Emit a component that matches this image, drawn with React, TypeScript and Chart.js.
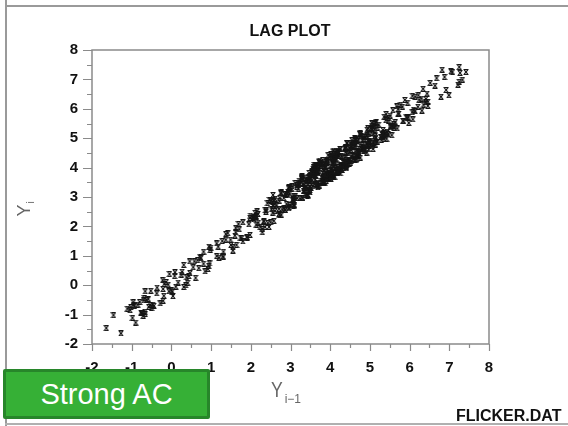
import React, { useEffect, useRef } from "react";
import { Chart, registerables } from "chart.js";

Chart.register(...registerables);

// Hand-read time series (FLICKER.DAT style), plotted as lag pairs (Y[i-1], Y[i])
const flickerSeries: number[] = [
  3.5, 3.62, 4.03, 3.96, 4.19, 3.84, 3.89, 4.2, 4.02, 4.46, 4.48, 4.22, 4.39, 4.7, 4.52, 4.61, 4.27, 4.05, 4.36, 4.33,
  3.98, 3.71, 3.9, 3.55, 3.57, 3.81, 3.49, 3.16, 3.34, 3.3, 2.98, 3.12, 3.47, 3.2, 3.28, 3.63, 3.91, 3.75, 4.14, 4.1,
  4.37, 4.68, 4.55, 4.93, 4.81, 4.76, 5.15, 5.02, 5.33, 5.09, 4.85, 4.97, 4.62, 4.71, 4.4, 4.18, 4.51, 4.16, 4.29, 3.93,
  3.77, 4.06, 3.68, 3.85,
  3.52, 3.31, 3.44, 3.08, 2.83, 2.97, 2.65, 2.72, 2.38, 2.5, 2.14, 2.06, 2.29, 1.91, 1.62, 1.8, 1.49, 1.55, 1.18, 1.31,
  0.96, 0.74, 0.92, 0.55, 0.61, 0.25, 0.36, 0.0, -0.18, 0.04, -0.37, -0.28, -0.62, -0.5, -0.77, -0.93, -0.71, -1.04,
  -0.85, -0.66, -0.98, -1.11, -0.8, -0.57, -0.74, -0.95, -0.68, -0.44, -0.7, -0.52, -0.19, -0.36, -0.08, 0.02, -0.22,
  0.17, 0.09, 0.44, 0.31, 0.69, 0.58, 0.81, 1.14, 0.99, 1.28, 1.5, 1.37, 1.74, 1.62, 1.95, 2.07, 2.33, 2.18, 2.42, 2.79,
  2.58, 2.86, 3.1, 2.98, 3.34, 3.22, 3.47, 3.82, 3.67, 4.03, 3.91, 4.22, 4.53, 4.4, 4.69, 4.91, 4.78, 5.06, 5.31, 5.14,
  5.52, 5.37, 5.12, 5.29, 4.94, 5.05, 4.72, 4.49, 4.67, 4.28, 4.4, 4.07, 4.15, 3.82, 3.96, 3.6, 3.77, 3.46, 3.58,
  3.92, 3.71, 4.08, 4.27, 3.99, 4.35, 4.18, 4.54, 4.71, 4.43, 4.82, 4.96, 4.75, 5.13, 5.06, 5.4, 5.61, 5.36, 5.73, 5.84,
  5.58, 5.95, 6.21, 6.07, 6.44, 6.52, 6.88, 7.08, 7.25, 7.42, 7.25, 6.92, 6.64, 6.79, 6.41, 6.22, 6.46, 6.1, 5.97, 5.71,
  5.84, 5.6, 5.47, 5.69, 5.33, 5.28, 5.04, 5.19, 4.88, 4.59, 4.83, 4.67, 4.41, 4.48, 4.13, 4.31, 4.07, 3.86, 3.97, 3.61,
  3.45, 3.69, 3.33, 3.2, 3.41, 3.08, 3.04, 3.36, 3.29, 3.6, 3.78, 3.53, 3.86, 4.03, 3.8, 4.12, 3.97, 3.71, 3.98, 3.66,
  3.9, 4.04, 4.38, 4.16, 4.46, 4.25, 4.63, 4.39, 4.16, 4.4, 4.03, 3.91, 3.6, 3.82, 3.48, 3.7, 3.39, 3.23, 3.43, 3.05,
  2.9, 3.08, 2.71, 2.6, 2.77, 2.39, 2.55, 2.84, 2.61, 2.94, 3.17, 2.96, 3.33, 3.44, 3.29, 3.7, 3.81, 3.63, 4.05, 4.15,
  4.47, 4.26, 4.64, 4.8, 4.62, 4.99, 4.88, 5.04, 5.33, 5.11, 5.47, 5.6, 5.43, 5.22, 5.46, 5.13, 4.97, 5.14, 4.78, 4.69,
  4.38, 4.64, 4.27, 4.1, 4.29, 3.92, 4.17, 3.83, 3.66, 3.86, 3.49, 3.37, 3.06, 2.92, 3.1, 2.73, 2.96, 2.61, 2.52, 2.58,
  2.19, 2.13, 2.36, 1.98, 1.71, 1.9, 1.64, 1.37, 1.55, 1.29, 0.98, 1.2, 0.94, 0.66, 0.85, 0.47, 0.41, 0.08, 0.31, -0.06,
  -0.21, -0.53, -0.67, -0.9, -1.27, -1.64, -1.46, -1.02, -0.75, -0.96, -0.58, -0.47, -0.66, -0.21, -0.13, 0.11, -0.05,
  0.38, 0.27, 0.46, 0.81, 0.73, 0.95, 1.31, 1.14, 1.42, 1.77, 1.6, 1.69, 2.08, 2.24, 1.99, 2.37, 2.55, 2.47, 2.9, 2.76,
  3.12, 3.03, 3.28, 3.67, 3.44, 3.57, 3.96, 3.81, 4.26, 4.09, 4.18, 4.57, 4.42, 4.84, 4.71, 4.95, 5.34, 5.16, 5.55, 5.41,
  5.82, 6.07, 5.88, 6.3, 6.35, 6.14, 5.92, 5.71, 5.98, 5.52, 5.43, 5.19, 5.36, 4.97, 4.91, 5.08, 4.63, 4.55, 4.76, 4.34,
  4.16, 4.41, 3.97, 3.88, 4.02, 3.62,
  3.58, 4.01, 3.81, 3.6, 4.09, 4.2, 3.86, 3.78, 4.13, 4.39, 4.34, 4.08, 4.54, 4.74, 4.63, 4.93, 5.29, 5.05, 5.51, 5.77,
  6.14, 6.41, 6.34, 6.68, 7.04, 7.27, 7.22, 6.82, 7.33, 6.99, 6.46, 6.24, 6.31, 5.94, 5.68, 6.08, 5.64, 5.55, 5.1, 5.42,
  4.98, 4.83, 5.04, 4.92, 4.51, 4.84, 4.58, 4.29, 4.37, 4.08, 3.76, 4.15, 3.85, 3.64, 3.73, 3.39, 3.49, 3.24, 2.95, 3.3,
  2.98, 2.72, 2.86, 2.56, 2.71, 2.43, 2.11, 2.46, 1.98, 2.29, 1.8, 2.14, 2.32, 2.16, 2.51, 2.87, 2.56, 3.07, 2.77, 3.16,
  3.41, 3.22, 3.56, 3.36, 3.66, 4.08, 3.73, 4.24, 3.95, 4.42, 4.08, 4.58, 4.82, 4.64, 4.96, 4.76, 5.16, 4.86, 4.62, 4.73,
  4.48, 4.65, 4.39, 4.53, 4.22, 3.92, 4.26, 3.8, 4.11, 3.69, 3.49, 3.65, 3.41, 3.54, 3.89, 3.6, 4.03, 3.72, 4.19, 3.88,
];

const xTickValues: number[] = [-2, -1, 0, 1, 2, 3, 4, 5, 6, 7, 8];
const yTickValues: number[] = [-2, -1, 0, 1, 2, 3, 4, 5, 6, 7, 8];

const titleText = "LAG PLOT";
const badgeText = "Strong AC";
const fileText = "FLICKER.DAT";

const FONT = "'Liberation Sans', Arial, Helvetica, sans-serif";

function makeMarker(): HTMLCanvasElement {
  const c = document.createElement("canvas");
  c.width = 6;
  c.height = 6;
  const g = c.getContext("2d")!;
  g.strokeStyle = "#151515";
  g.lineWidth = 1.1;
  g.beginPath();
  g.moveTo(0.5, 0.5);
  g.lineTo(5.5, 0.5);
  g.moveTo(0.5, 5.5);
  g.lineTo(5.5, 5.5);
  g.moveTo(1.2, 0.8);
  g.lineTo(4.8, 5.2);
  g.moveTo(4.8, 0.8);
  g.lineTo(1.2, 5.2);
  g.stroke();
  return c;
}

const framePlugin = {
  id: "frameTicks",
  afterDraw(chart: any) {
    const { ctx, chartArea, scales } = chart;
    const xs = scales.x;
    const ys = scales.y;
    ctx.save();
    ctx.strokeStyle = "#8a8a8a";
    ctx.lineWidth = 1.5;
    ctx.strokeRect(chartArea.left, chartArea.top, chartArea.right - chartArea.left, chartArea.bottom - chartArea.top);
    ctx.lineWidth = 1.2;
    ctx.beginPath();
    for (let v = xs.min; v <= xs.max + 1e-9; v += 0.5) {
      const px = Math.round(xs.getPixelForValue(v)) + 0.5;
      const major = Math.abs(v - Math.round(v)) < 1e-6;
      ctx.moveTo(px, chartArea.bottom);
      ctx.lineTo(px, chartArea.bottom + (major ? 7 : 4));
    }
    for (let v = ys.min; v <= ys.max + 1e-9; v += 0.5) {
      const py = Math.round(ys.getPixelForValue(v)) + 0.5;
      const major = Math.abs(v - Math.round(v)) < 1e-6;
      ctx.moveTo(chartArea.left, py);
      ctx.lineTo(chartArea.left - (major ? 9 : 5), py);
    }
    ctx.stroke();
    ctx.restore();
  },
};

function LagChart() {
  const ref = useRef<HTMLCanvasElement | null>(null);
  useEffect(() => {
    if (!ref.current) return;
    const points = flickerSeries.slice(1).map((v, i) => ({ x: flickerSeries[i], y: v }));
    const marker = makeMarker();
    const chart = new Chart(ref.current, {
      type: "scatter",
      data: {
        datasets: [
          {
            data: points,
            pointStyle: marker as any,
            pointRadius: 3,
            pointHoverRadius: 3,
            backgroundColor: "#151515",
            borderColor: "#151515",
          },
        ],
      },
      options: {
        animation: false,
        responsive: false,
        events: [],
        layout: { padding: { left: 42, right: 79, top: 50, bottom: 32 } },
        plugins: { legend: { display: false }, tooltip: { enabled: false }, title: { display: false } },
        scales: {
          x: {
            type: "linear",
            min: -2,
            max: 8,
            afterFit: (s: any) => {
              s.height = 50;
            },
            afterBuildTicks: (s: any) => {
              s.ticks = xTickValues.map((v) => ({ value: v }));
            },
            ticks: {
              padding: 15,
              color: "#111",
              font: { family: FONT, size: 15, weight: "bold" },
              maxRotation: 0,
              callback: (v: any) => String(v),
            },
            grid: { display: false, drawTicks: true, tickLength: 0 },
            border: { display: false },
          },
          y: {
            type: "linear",
            min: -2,
            max: 8,
            afterFit: (s: any) => {
              s.width = 50;
            },
            afterBuildTicks: (s: any) => {
              s.ticks = yTickValues.map((v) => ({ value: v }));
            },
            ticks: {
              padding: 14,
              color: "#111",
              font: { family: FONT, size: 15, weight: "bold" },
              callback: (v: any) => String(v),
            },
            grid: { display: false, drawTicks: true, tickLength: 0 },
            border: { display: false },
          },
        },
      },
      plugins: [framePlugin],
    } as any);
    return () => chart.destroy();
  }, []);
  return <canvas ref={ref} width={568} height={426} style={{ position: "absolute", left: 0, top: 0 }} />;
}

export default function App() {
  return (
    <div style={{ position: "absolute", left: 0, top: 0, width: 568, height: 426, background: "#fff", overflow: "hidden", fontFamily: FONT }}>
      <LagChart />
      <div style={{ position: "absolute", left: 5, top: 0, width: 2, height: 426, background: "#9a9a9a" }} />
      <div style={{ position: "absolute", left: 5, top: 5, width: 563, height: 2, background: "#9a9a9a" }} />
      <div style={{ position: "absolute", left: 5, top: 423, width: 563, height: 1.5, background: "#b0b0b0" }} />
      <div style={{ position: "absolute", left: 190, width: 200, top: 21, textAlign: "center", fontWeight: "bold", fontSize: 16, color: "#111", lineHeight: "20px" }}>
        {titleText}
      </div>
      <div
        style={{
          position: "absolute",
          left: 4,
          top: 199,
          width: 40,
          height: 20,
          transform: "rotate(-90deg)",
          transformOrigin: "50% 50%",
          color: "#666",
          whiteSpace: "nowrap",
          lineHeight: "20px",
          textAlign: "center",
        }}
      >
        <span style={{ fontSize: 18 }}>Y</span>
        <span style={{ fontSize: 10, position: "relative", top: 4, marginLeft: 1 }}>i</span>
      </div>
      <div style={{ position: "absolute", left: 271, top: 377, color: "#666", whiteSpace: "nowrap", lineHeight: "26px" }}>
        <span style={{ fontSize: 22, display: "inline-block", transform: "scaleX(0.8)", transformOrigin: "0 50%" }}>Y</span>
        <span style={{ fontSize: 12, position: "relative", top: 6, marginLeft: -1 }}>i−1</span>
      </div>
      <div style={{ position: "absolute", left: 456, top: 406, fontWeight: "bold", fontSize: 16, color: "#111", lineHeight: "20px", whiteSpace: "nowrap" }}>
        {fileText}
      </div>
      <div
        style={{
          position: "absolute",
          left: 3,
          top: 369,
          width: 201,
          height: 44,
          background: "#36b036",
          border: "3px solid #27862a",
          borderRadius: 2,
          color: "#fff",
          fontSize: 29,
          lineHeight: "44px",
          textAlign: "center",
        }}
      >
        {badgeText}
      </div>
    </div>
  );
}
